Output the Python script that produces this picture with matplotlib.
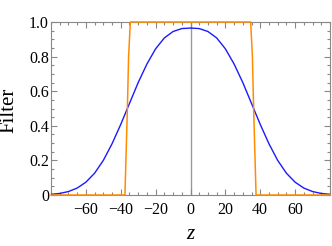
import numpy as np
import matplotlib
matplotlib.use("Agg")
import matplotlib.pyplot as plt
from matplotlib.ticker import MultipleLocator, FixedLocator

# broad filter (blue), every 5 units of z
z_broad = [-80, -75, -70, -65, -60, -55, -50, -45, -40, -35, -30, -25, -20, -15, -10, -5,
           0, 5, 10, 15, 20, 25, 30, 35, 40, 45, 50, 55, 60, 65, 70, 75, 80]
f_broad = [0.004, 0.009, 0.020, 0.040, 0.074, 0.126, 0.200, 0.296, 0.408, 0.529, 0.650,
           0.757, 0.845, 0.908, 0.945, 0.962, 0.965, 0.962, 0.945, 0.908, 0.845, 0.757,
           0.650, 0.529, 0.408, 0.296, 0.200, 0.126, 0.074, 0.040, 0.020, 0.009, 0.004]

# sharp box filter (orange)
z_box = [-80, -37.6, -36.9, -36.2, -35.5, -34.5, 34.5, 35.5, 36.2, 36.9, 37.6, 80]
f_box = [0, 0, 0.25, 0.5, 0.8, 1, 1, 0.8, 0.5, 0.25, 0, 0]

x_ticks = [-60, -40, -20, 0, 20, 40, 60]
y_ticks = [0, 0.2, 0.4, 0.6, 0.8, 1.0]
y_labels = ["0", "0.2", "0.4", "0.6", "0.8", "1.0"]

plt.rcParams["font.family"] = ["Liberation Serif", "DejaVu Serif"]

fig = plt.figure(figsize=(3.32, 2.46), dpi=100)
ax = fig.add_axes([51 / 332, 1 - 195 / 246, 279 / 332, 173 / 246])

frame = "#888888"
ax.axvline(0, color="#999999", lw=1.0, zorder=1)
ax.plot(z_broad, f_broad, color="#1a1aff", lw=1.0, zorder=3)
ax.plot(z_box, f_box, color="#ff8c00", lw=1.1, zorder=4, clip_on=False)

ax.set_xlim(-80, 80)
ax.set_ylim(0, 1)

ax.xaxis.set_major_locator(FixedLocator(x_ticks))
ax.xaxis.set_minor_locator(MultipleLocator(5))
ax.yaxis.set_major_locator(FixedLocator(y_ticks))
ax.yaxis.set_minor_locator(MultipleLocator(0.05))
ax.set_yticklabels(y_labels)

for s in ax.spines.values():
    s.set_color(frame)
    s.set_linewidth(0.8)
ax.tick_params(which="both", direction="in", top=True, right=True,
               color=frame, width=0.8, labelsize=11.5, labelcolor="black")
ax.tick_params(which="major", length=4)
ax.tick_params(which="minor", length=2.2)
ax.tick_params(axis="x", pad=5)
ax.tick_params(axis="y", pad=1.5)

ax.set_xlabel("z", fontsize=15, fontstyle="italic")
ax.set_ylabel("Filter", fontsize=15)
ax.xaxis.label.set_verticalalignment("center")
ax.yaxis.label.set_verticalalignment("center")
ax.xaxis.set_label_coords(0.5, -0.231)
ax.yaxis.set_label_coords(-0.152, 0.49)

fig.savefig("out.png", dpi=100)
